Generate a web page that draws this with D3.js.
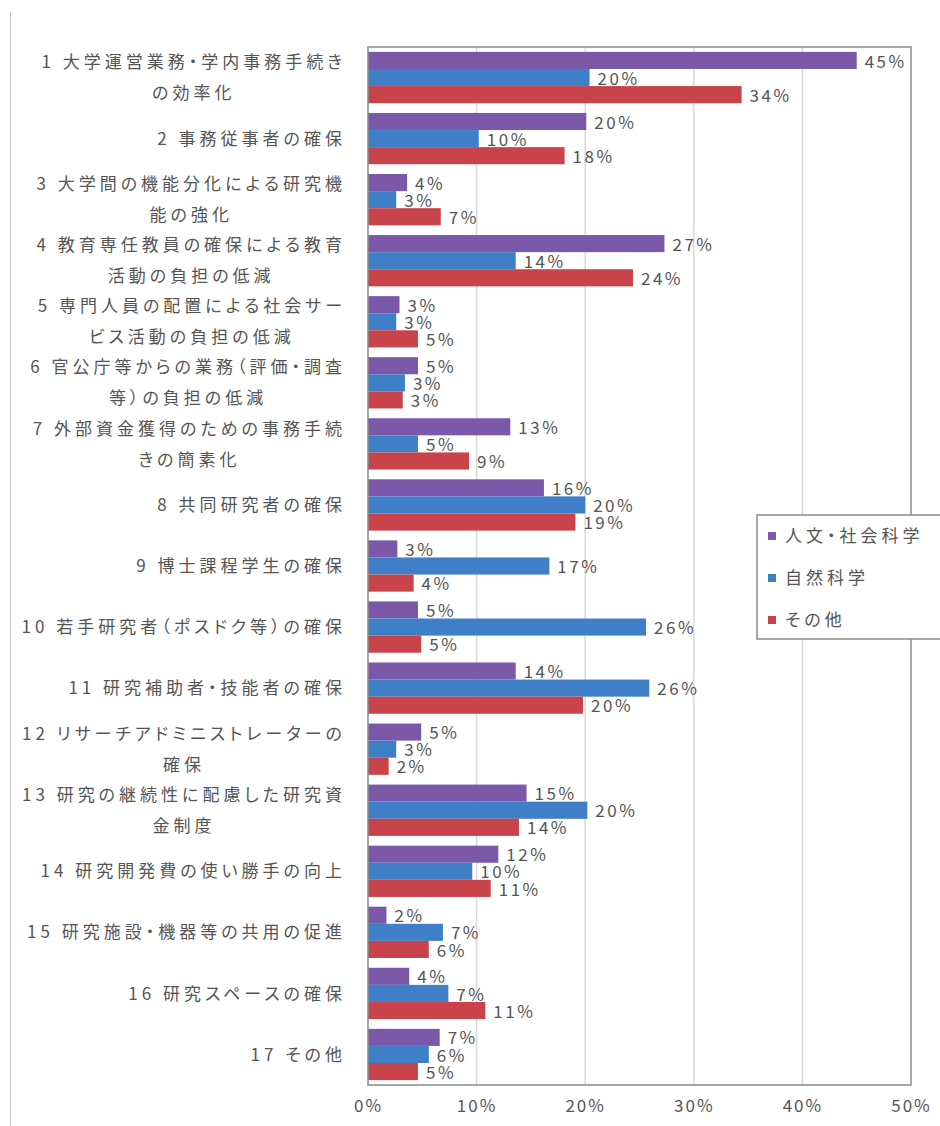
<!DOCTYPE html>
<html>
<head>
<meta charset="utf-8">
<script src="https://cdn.jsdelivr.net/npm/d3@7"></script>
<style>
  body { margin: 0; background: #fff; }
  svg { display: block; }
  text { font-family: "Noto Sans CJK JP", "Noto Sans", sans-serif; }
  .cat { font-feature-settings: "palt"; }
</style>
</head>
<body>
<script>
// category labels (line breaks as in the original)
const categories = [
    ["1 大学運営業務・学内事務手続き", "の効率化"],
    ["2 事務従事者の確保"],
    ["3 大学間の機能分化による研究機", "能の強化"],
    ["4 教育専任教員の確保による教育", "活動の負担の低減"],
    ["5 専門人員の配置による社会サー", "ビス活動の負担の低減"],
    ["6 官公庁等からの業務（評価・調査", "等）の負担の低減"],
    ["7 外部資金獲得のための事務手続", "きの簡素化"],
    ["8 共同研究者の確保"],
    ["9 博士課程学生の確保"],
    ["10 若手研究者（ポスドク等）の確保"],
    ["11 研究補助者・技能者の確保"],
    ["12 リサーチアドミニストレーターの", "確保"],
    ["13 研究の継続性に配慮した研究資", "金制度"],
    ["14 研究開発費の使い勝手の向上"],
    ["15 研究施設・機器等の共用の促進"],
    ["16 研究スペースの確保"],
    ["17 その他"]
];

const seriesNames = ["人文・社会科学", "自然科学", "その他"];
const seriesColors = ["#7b58a8", "#3f7fc8", "#c9434a"];

// percent values
const jinbun = [45.0, 20.1, 3.6, 27.3, 2.9, 4.6, 13.1, 16.2, 2.7, 4.6, 13.6, 4.9, 14.6, 12.0, 1.7, 3.8, 6.6];
const shizen = [20.4, 10.2, 2.6, 13.6, 2.6, 3.4, 4.6, 20.0, 16.7, 25.6, 25.9, 2.6, 20.2, 9.6, 6.9, 7.4, 5.6];
const sonota = [34.4, 18.1, 6.7, 24.4, 4.6, 3.2, 9.3, 19.1, 4.2, 4.9, 19.8, 1.9, 13.9, 11.3, 5.6, 10.8, 4.6];

const xTicks = [0, 10, 20, 30, 40, 50];

const values = [jinbun, shizen, sonota];

const width = 940;
const height = 1126;
const plot = { left: 368, right: 911, top: 47, bottom: 1085 };

const svg = d3.select("body").append("svg")
    .attr("width", width)
    .attr("height", height);

// outer chart border (left edge visible)
svg.append("line")
    .attr("x1", 10.5).attr("x2", 10.5)
    .attr("y1", 12).attr("y2", height)
    .style("stroke", "#c8c8c8");

const x = d3.scaleLinear().domain([0, 50]).range([plot.left, plot.right]);

const y = d3.scaleBand()
    .domain(d3.range(categories.length))
    .range([plot.top, plot.bottom])
    .paddingInner(0.16)
    .paddingOuter(0.08);

const ySub = d3.scaleBand()
    .domain(d3.range(seriesNames.length))
    .range([0, y.bandwidth()]);

// gridlines
svg.append("g")
    .selectAll("line")
    .data(xTicks.slice(1, -1))
    .enter()
    .append("line")
    .attr("x1", d => x(d)).attr("x2", d => x(d))
    .attr("y1", plot.top).attr("y2", plot.bottom)
    .style("stroke", "#d9d9d9")
    .style("stroke-width", 1.5);

// bars
const rows = [];
categories.forEach((c, i) => {
    values.forEach((arr, s) => rows.push({ i: i, s: s, v: arr[i] }));
});

svg.append("g")
    .selectAll("rect")
    .data(rows)
    .enter()
    .append("rect")
    .attr("x", x(0))
    .attr("y", d => y(d.i) + ySub(d.s))
    .attr("width", d => x(d.v) - x(0))
    .attr("height", ySub.bandwidth())
    .style("fill", d => seriesColors[d.s]);

// value labels
svg.append("g")
    .selectAll("text")
    .data(rows)
    .enter()
    .append("text")
    .attr("x", d => x(d.v) + 8)
    .attr("y", d => y(d.i) + ySub(d.s) + ySub.bandwidth() / 2 + 1)
    .attr("dy", "0.36em")
    .style("font-size", "17px")
    .style("letter-spacing", "2.5px")
    .style("fill", "#555")
    .text(d => Math.round(d.v) + "%");

// plot frame
svg.append("rect")
    .attr("x", plot.left).attr("y", plot.top)
    .attr("width", plot.right - plot.left)
    .attr("height", plot.bottom - plot.top)
    .style("fill", "none")
    .style("stroke", "#8a8a8a")
    .style("stroke-width", 1.5);

// x axis tick labels
const xAxis = svg.append("g")
    .attr("transform", `translate(0,${plot.bottom})`)
    .call(d3.axisBottom(x).tickValues(xTicks).tickSize(0).tickPadding(15).tickFormat(d => d + "%"));
xAxis.select(".domain").remove();
xAxis.selectAll("text")
    .style("font-size", "17px")
    .style("letter-spacing", "2px")
    .style("font-family", "\"Noto Sans CJK JP\", sans-serif")
    .style("fill", "#555");

// category labels: block right-aligned, lines centered inside block
const labelRight = 346;
const lineH = 31;
const catG = svg.append("g");
categories.forEach((lines, i) => {
    const g = catG.append("g");
    const cy = y(i) + y.bandwidth() / 2;
    const texts = lines.map((t, k) => g.append("text")
        .attr("class", "cat")
        .attr("y", cy + (k - (lines.length - 1) / 2) * lineH)
        .attr("dy", "0.36em")
        .attr("text-anchor", "middle")
        .style("font-size", "17px")
        .style("letter-spacing", "4px")
        .style("fill", "#555")
        .text(t));
    const widths = texts.map(t => t.node().getComputedTextLength());
    const w = d3.max(widths);
    texts.forEach(t => t.attr("x", labelRight - w / 2));
});

// legend
const legend = svg.append("g").attr("transform", "translate(757,515)");
legend.append("rect")
    .attr("width", 190).attr("height", 124)
    .style("fill", "#fff")
    .style("stroke", "#8a8a8a")
    .style("stroke-width", 1.5);
seriesNames.forEach((name, s) => {
    const ly = 21 + s * 42;
    legend.append("rect")
        .attr("x", 11).attr("y", ly - 4)
        .attr("width", 8).attr("height", 8)
        .style("fill", seriesColors[s]);
    legend.append("text")
        .attr("class", "cat")
        .attr("x", 28).attr("y", ly)
        .attr("dy", "0.36em")
        .style("font-size", "17px")
        .style("letter-spacing", "4px")
        .style("fill", "#555")
        .text(name);
});
</script>
</body>
</html>
